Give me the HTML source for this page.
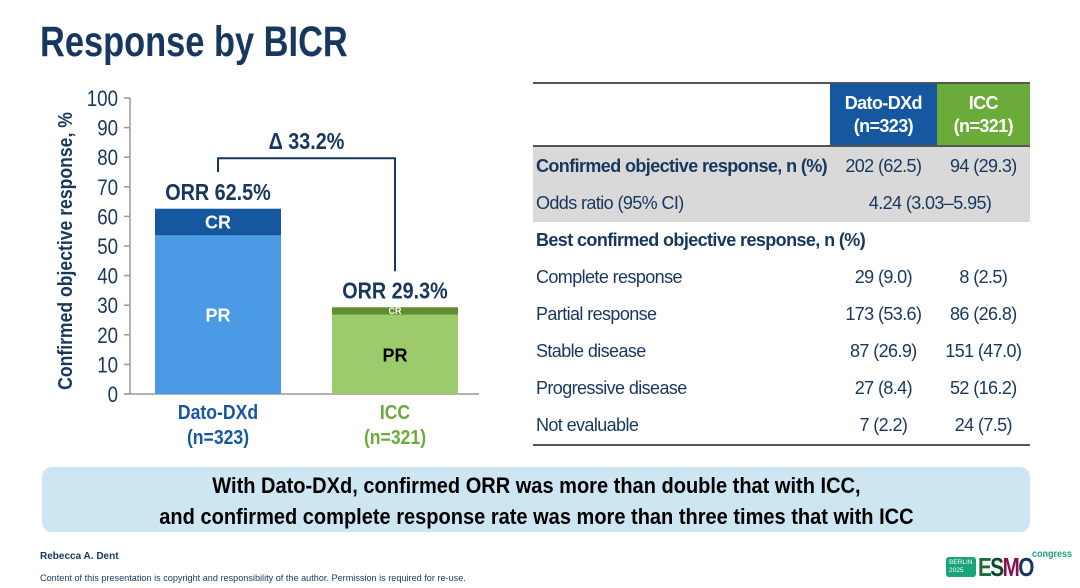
<!DOCTYPE html>
<html><head><meta charset="utf-8"><style>
body{margin:0;width:1080px;height:588px;background:#fff;position:relative;overflow:hidden;font-family:"Liberation Sans",sans-serif;color:#17375e}
.abs{position:absolute}
#title{left:40px;top:18px;font-size:43px;font-weight:bold;color:#17375e;transform:scaleX(0.8);transform-origin:left top;white-space:nowrap}
table{position:absolute;left:533px;top:82px;width:497px;border-collapse:collapse;font-size:18px;letter-spacing:-0.6px;white-space:nowrap}
td{padding:0 3px;height:37px;color:#17375e}
.c{text-align:center}
.g td{background:#d9d9d9}
</style></head><body>
<div id="title" class="abs">Response by BICR</div>
<svg class="abs" style="left:0;top:0" width="520" height="460">
<g id="chart"></g>
</svg>
<table>
<tr style="border-top:2px solid #555"><td style="height:61px;border-bottom:2px solid #555"></td>
<td class="c" style="width:104px;background:#1558a0;color:#fff;font-weight:bold;border-bottom:2px solid #555;line-height:23px">Dato-DXd<br>(n=323)</td>
<td class="c" style="width:89px;background:#6aab3a;color:#fff;font-weight:bold;border-bottom:2px solid #555;line-height:23px">ICC<br>(n=321)</td></tr>
<tr class="g"><td style="font-weight:bold;height:38px">Confirmed objective response, n (%)</td><td class="c">202 (62.5)</td><td class="c">94 (29.3)</td></tr>
<tr class="g"><td>Odds ratio (95% CI)</td><td class="c" colspan="2">4.24 (3.03–5.95)</td></tr>
<tr><td style="font-weight:bold" colspan="3">Best confirmed objective response, n (%)</td></tr>
<tr><td>Complete response</td><td class="c">29 (9.0)</td><td class="c">8 (2.5)</td></tr>
<tr><td>Partial response</td><td class="c">173 (53.6)</td><td class="c">86 (26.8)</td></tr>
<tr><td>Stable disease</td><td class="c">87 (26.9)</td><td class="c">151 (47.0)</td></tr>
<tr><td>Progressive disease</td><td class="c">27 (8.4)</td><td class="c">52 (16.2)</td></tr>
<tr style="border-bottom:2px solid #555"><td>Not evaluable</td><td class="c">7 (2.2)</td><td class="c">24 (7.5)</td></tr>
</table>
<div class="abs" style="left:42px;top:467px;width:988px;height:65px;background:#cde6f2;border-radius:10px;text-align:center;font-weight:bold;font-size:22px;line-height:31px;color:#000;padding-top:3px;box-sizing:border-box"><div style="display:inline-block;transform:scaleX(0.91);white-space:nowrap">With Dato-DXd, confirmed ORR was more than double that with ICC,<br>and confirmed complete response rate was more than three times that with ICC</div></div>
<div class="abs" style="left:40px;top:551px;font-size:10px;font-weight:bold;color:#17375e">Rebecca A. Dent</div>
<div class="abs" style="left:40px;top:573px;font-size:9.5px;color:#17375e;transform:scaleX(0.96);transform-origin:left top;white-space:nowrap">Content of this presentation is copyright and responsibility of the author. Permission is required for re-use.</div>
<div class="abs" style="left:946px;top:552px;width:130px;height:30px">
<div class="abs" style="left:0;top:5px;width:30px;height:20px;background:#1ba37c;border-radius:3px;color:#fff;font-size:6.5px;line-height:8px;padding:2px 3px;box-sizing:border-box">BERLIN<br>2025</div>
<div class="abs" style="left:32px;top:1px;font-size:26px;line-height:28px;font-weight:bold;letter-spacing:-2px;transform:scaleX(0.8);transform-origin:left top"><span style="color:#1b6e3a">E</span><span style="color:#0b4a2a">S</span><span style="color:#8a1050">M</span><span style="color:#17375e">O</span></div>
<div class="abs" style="left:86px;top:-3px;font-size:10px;font-weight:bold;color:#1ba37c;transform:scaleX(0.9);transform-origin:left top">congress</div>
</div>
<script>
const categories=["Dato-DXd","ICC"];
const nLabels=["(n=323)","(n=321)"];
const prValues=[53.6,26.8];
const crValues=[9.0,2.5];
const orrValues=[62.5,29.3];
const yTicks=[0,10,20,30,40,50,60,70,80,90,100];
const deltaLabel="Δ 33.2%";
const NS="http://www.w3.org/2000/svg";
const g=document.getElementById('chart');
const y0=394,yTop=98,ax=130,axEnd=479;
const y=v=>y0-(v/100)*(y0-yTop);
const bandL=[155,332],bw=126;
const prCol=["#4a9ae6","#9dcb6b"],crCol=["#1558a0","#5e8e2f"],catCol=["#1558a0","#6aab3a"],prTxt=["#fff","#000"];
const FF='Liberation Sans, sans-serif';
function mk(t,a,txt){const e=document.createElementNS(NS,t);for(const k in a)e.setAttribute(k,a[k]);if(txt!==undefined)e.textContent=txt;g.appendChild(e);return e;}
function narrow(e,f){const w=e.getComputedTextLength();e.setAttribute('textLength',w*f);e.setAttribute('lengthAdjust','spacingAndGlyphs');}
let e=mk('line',{x1:ax,y1:yTop,x2:ax,y2:y0,stroke:'#999','stroke-width':1.5});


e=mk('line',{x1:ax-6,y1:y0,x2:axEnd,y2:y0,stroke:'#999','stroke-width':1.5});


yTicks.forEach(t=>{
 const l=mk('line',{x1:ax-6,y1:y(t),x2:ax,y2:y(t),stroke:'#999','stroke-width':1.5});
 
 
 const tx=mk('text',{x:ax-12,y:y(t)+8,'text-anchor':'end','font-size':22,fill:'#17375e','font-family':FF},t);
 
 
 narrow(tx,0.85);
});
e=mk('text',{transform:`translate(72,${(y0+yTop)/2+5}) rotate(-90)`,'text-anchor':'middle','font-size':20,'font-weight':'bold',fill:'#17375e','font-family':FF},'Confirmed objective response, %');


narrow(e,0.88);
categories.forEach((c,i)=>{
 const x=bandL[i],cx=x+bw/2;
 const pr=mk('rect',{x:x,y:y(prValues[i]),width:bw,height:y0-y(prValues[i]),fill:prCol[i]});
 
 
 const top=prValues[i]+crValues[i];
 const cr=mk('rect',{x:x,y:y(top),width:bw,height:y(prValues[i])-y(top),fill:crCol[i]});
 
 
 const crFs=i===0?18:9;
 e=mk('text',{x:cx,y:(y(top)+y(prValues[i]))/2+crFs*0.36,'text-anchor':'middle','font-size':crFs,'font-weight':'bold',fill:'#fff','font-family':FF},'CR');
 
 
 e=mk('text',{x:cx,y:(y(prValues[i])+y0)/2+7,'text-anchor':'middle','font-size':18,'font-weight':'bold',fill:prTxt[i],'font-family':FF},'PR');
 
 
 e=mk('text',{x:cx,y:y(orrValues[i])-9,'text-anchor':'middle','font-size':23,'font-weight':'bold',fill:'#17375e','font-family':FF},'ORR '+orrValues[i]+'%');
 
 
 narrow(e,0.86);
 e=mk('text',{x:cx,y:419,'text-anchor':'middle','font-size':20,'font-weight':'bold',fill:catCol[i],'font-family':FF},c);
 
 
 narrow(e,0.88);
 e=mk('text',{x:cx,y:444,'text-anchor':'middle','font-size':20,'font-weight':'bold',fill:catCol[i],'font-family':FF},nLabels[i]);
 
 
 narrow(e,0.88);
});
const bx1=bandL[0]+bw/2,bx2=bandL[1]+bw/2,byTop=y(80)+1;
e=mk('path',{d:`M${bx1} ${y(orrValues[0])-37}V${byTop}H${bx2}V${y(orrValues[1])-36}`,fill:'none',stroke:'#17375e','stroke-width':2});


e=mk('text',{x:(bx1+bx2)/2,y:byTop-9,'text-anchor':'middle','font-size':23,'font-weight':'bold',fill:'#17375e','font-family':FF},deltaLabel);


narrow(e,0.86);
</script>
</body></html>
